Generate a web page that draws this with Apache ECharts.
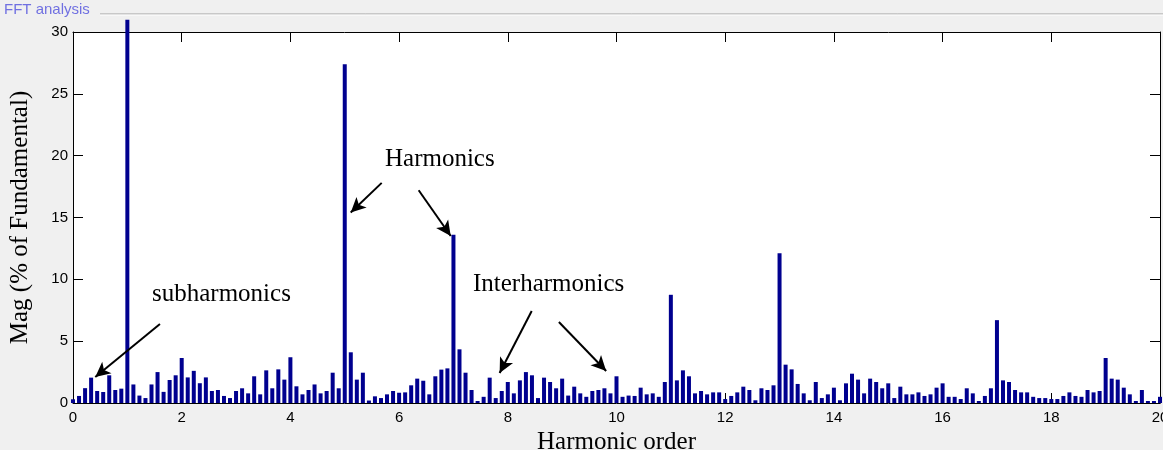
<!DOCTYPE html>
<html><head><meta charset="utf-8">
<script src="https://cdn.jsdelivr.net/npm/echarts@6/dist/echarts.min.js"></script>
<style>html,body{margin:0;padding:0;background:#f0f0f0;}#c{width:1163px;height:450px;}</style>
</head><body><div id="c"></div>
<script>
// FFT magnitude (% of fundamental), one bin every 1/9 harmonic order, from order 0 to 20
const magnitude0to5 = [
  0.3, 0.57, 1.2, 2.05, 0.97, 0.89, 2.24, 1.05, 1.16,
  31.0, 1.5, 0.6, 0.4, 1.5, 2.5, 0.9, 1.86, 2.24,
  3.64, 2.07, 2.6, 1.6, 2.07, 0.97, 1.05, 0.57, 0.4,
  0.97, 1.19, 0.78, 2.16, 0.7, 2.64, 1.19, 2.72, 1.89,
  3.7, 1.35, 0.7, 1.05, 1.5, 0.78, 0.97, 2.45, 1.19
];
const magnitude5to10 = [
  27.4, 4.1, 1.89, 2.45, 0.2, 0.54, 0.4, 0.7, 0.97,
  0.83, 0.86, 1.43, 1.97, 1.8, 0.7, 2.16, 2.7, 2.8,
  13.6, 4.34, 2.45, 1.05, 0.16, 0.5, 2.05, 0.4, 0.97,
  1.7, 0.78, 1.83, 2.5, 2.24, 0.4, 2.05, 1.7, 1.19,
  1.97, 0.6, 1.32, 0.78, 0.5, 0.97, 1.05, 1.19, 0.78
];
const magnitude10to15 = [
  2.16, 0.5, 0.6, 0.57, 1.24, 0.7, 0.78, 0.5, 1.7,
  8.75, 1.83, 2.64, 2.16, 0.78, 0.97, 0.7, 0.86, 0.86,
  0.32, 0.57, 0.86, 1.32, 1.05, 0.22, 1.19, 1.05, 1.43,
  12.1, 3.1, 2.72, 1.54, 0.78, 0.22, 1.7, 0.4, 0.7,
  1.24, 0.22, 1.59, 2.37, 1.89, 0.78, 1.97, 1.7, 1.19
];
const magnitude15to20 = [
  1.59, 0.4, 1.32, 0.7, 0.7, 0.86, 0.57, 0.7, 1.24,
  1.59, 0.5, 0.5, 0.32, 1.19, 0.78, 0.16, 0.57, 1.19,
  6.7, 1.83, 1.7, 1.05, 0.86, 0.86, 0.5, 0.4, 0.4,
  0.32, 0.32, 0.57, 0.86, 0.57, 0.5, 1.05, 0.86, 0.97,
  3.64, 1.97, 1.89, 1.24, 0.7, 0.16, 1.05, 0.16, 0.16,
  0.5
];
const binsPerHarmonic = 9;
const xTickLabels = [0, 2, 4, 6, 8, 10, 12, 14, 16, 18, 20];
const yTickLabels = [0, 5, 10, 15, 20, 25, 30];

const magnitude = [].concat(magnitude0to5, magnitude5to10, magnitude10to15, magnitude15to20);
const barData = magnitude.map((v, i) => [i / binsPerHarmonic, v]);

// annotation arrows in data coordinates [from, to]
const arrows = [
  [[1.60, 6.39], [0.41, 2.10]],
  [[5.68, 17.8], [5.11, 15.4]],
  [[6.36, 17.2], [6.95, 13.5]],
  [[8.44, 7.44], [7.85, 2.43]],
  [[8.94, 6.55], [9.81, 2.59]]
];

const serif = '"Liberation Serif", "Times New Roman", serif';
const sans = '"Liberation Sans", Arial, sans-serif';

const chart = echarts.init(document.getElementById('c'), null, {renderer: 'canvas'});
const baseX = {
  type: 'value', min: xTickLabels[0], max: xTickLabels[xTickLabels.length - 1], interval: 2,
  axisLine: {show: true, onZero: false, lineStyle: {color: '#000', width: 1}},
  axisTick: {show: true, inside: true, length: 10, lineStyle: {color: '#000'}},
  splitLine: {show: false}
};
const baseY = {
  type: 'value', min: yTickLabels[0], max: yTickLabels[yTickLabels.length - 1], interval: 5,
  axisLine: {show: true, onZero: false, lineStyle: {color: '#000', width: 1}},
  axisTick: {show: true, inside: true, length: 10, lineStyle: {color: '#000'}},
  splitLine: {show: false}
};
chart.setOption({
  animation: false,
  backgroundColor: '#f0f0f0',
  grid: {left: 73, right: 3, top: 32, bottom: 47, show: true, backgroundColor: '#fff', borderWidth: 0,
         containLabel: false, outerBoundsMode: 'none'},
  xAxis: [
    Object.assign({}, baseX, {
      position: 'bottom',
      axisLabel: {show: true, color: '#000', fontFamily: sans, fontSize: 15, margin: 7},
      name: 'Harmonic order', nameLocation: 'middle', nameGap: 26,
      nameTextStyle: {color: '#000', fontFamily: serif, fontSize: 25}
    }),
    Object.assign({}, baseX, {position: 'top', axisLabel: {show: false}})
  ],
  yAxis: [
    Object.assign({}, baseY, {
      position: 'left',
      axisLabel: {show: true, color: '#000', fontFamily: sans, fontSize: 15, margin: 5},
      name: 'Mag (% of Fundamental)', nameLocation: 'middle', nameGap: 40,
      nameTextStyle: {color: '#000', fontFamily: serif, fontSize: 25}
    }),
    Object.assign({}, baseY, {position: 'right', axisLabel: {show: false}})
  ],
  series: [{
    type: 'bar',
    data: barData,
    barWidth: 4,
    clip: false,
    itemStyle: {color: '#00008f'},
    silent: true,
    markLine: {
      silent: true,
      symbol: ['none', 'arrow'],
      symbolSize: [11, 15],
      label: {show: false},
      lineStyle: {color: '#000', width: 2, type: 'solid'},
      data: arrows.map(a => [{coord: a[0]}, {coord: a[1]}])
    }
  }],
  graphic: [
    {type: 'text', left: 4, top: 2, style: {text: 'FFT analysis', font: '15px ' + sans, fill: '#5050dd', opacity: 0.8, shadowBlur: 1, shadowColor: '#8080ff'}},
    {type: 'line', shape: {x1: 100, y1: 14, x2: 1163, y2: 14}, style: {stroke: '#a0a0a0', lineWidth: 1}},
    {type: 'line', shape: {x1: 100, y1: 15, x2: 1163, y2: 15}, style: {stroke: '#ffffff', lineWidth: 1}},
    {type: 'text', left: 385, top: 147, style: {text: 'Harmonics', font: '25px ' + serif, fill: '#000'}},
    {type: 'text', left: 152, top: 282, style: {text: 'subharmonics', font: '25px ' + serif, fill: '#000'}},
    {type: 'text', left: 473, top: 272, style: {text: 'Interharmonics', font: '25px ' + serif, fill: '#000'}}
  ]
});
</script>
</body></html>
